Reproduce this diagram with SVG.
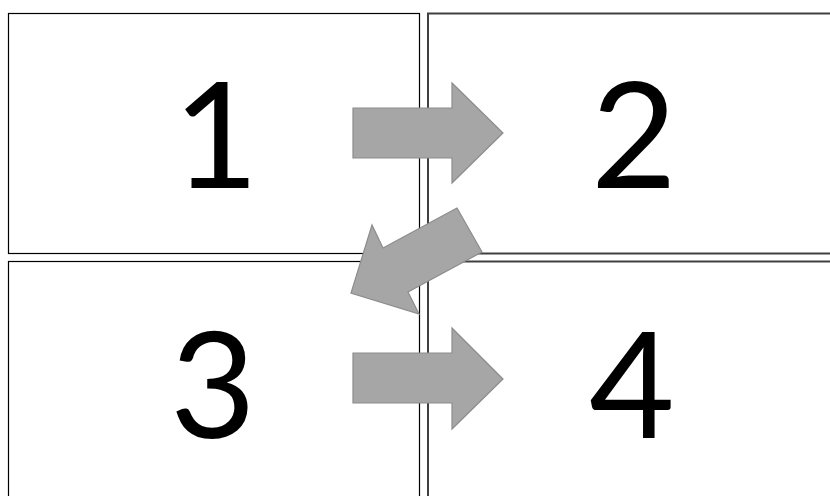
<svg xmlns="http://www.w3.org/2000/svg" width="830" height="496" viewBox="0 0 830 496">
<style>
.box{fill:#fff;stroke:#000;stroke-width:1.2}
.box2{fill:#fff;stroke:#404040;stroke-width:2}
.num{font-family:Lato,"Open Sans","Liberation Sans",sans-serif;font-size:148px;fill:#000;text-anchor:middle}
.arrow{fill:#a6a6a6;stroke:#8c8c8c;stroke-width:1.2;stroke-linejoin:miter}
</style>
<rect width="830" height="496" fill="#fff"/>
<g id="node1"><rect class="box" x="8.5" y="13.5" width="411" height="240"/><text class="num" x="216" y="188">1</text></g>
<g id="node2"><rect class="box2" x="428" y="13.5" width="420" height="240"/><text class="num" x="634" y="188">2</text></g>
<g id="node3"><rect class="box" x="8.5" y="261.5" width="411" height="250"/><text class="num" x="213" y="438">3</text></g>
<g id="node4"><rect class="box2" x="428" y="261.5" width="420" height="250"/><text class="num" x="632" y="438">4</text></g>
<g id="connectors">
<polygon class="arrow" points="353,108 452,108 452,83 503,133 452,183 452,158 353,158"/>
<polygon class="arrow" points="457,208 482,252 408,292 419,314 351,293 372,225 383,248"/>
<polygon class="arrow" points="353,353 452,353 452,328 503,379 452,429 452,403 353,403"/>
</g>
</svg>
